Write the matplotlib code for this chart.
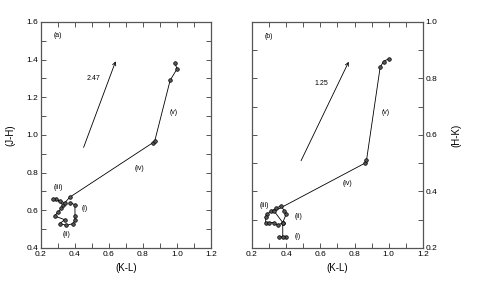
import numpy as np
import matplotlib
matplotlib.use('Agg')
import matplotlib.pyplot as plt
from matplotlib.ticker import MultipleLocator

plt.rcParams['font.family'] = ['Liberation Sans', 'DejaVu Sans']

# panel (a): (K-L) vs (J-H), evolution track
kl_a = [0.37, 0.40, 0.40, 0.40, 0.39, 0.35, 0.31, 0.34, 0.28, 0.30, 0.32, 0.33,
        0.29, 0.27, 0.31, 0.34, 0.37, 0.86, 0.87, 0.96, 1.00, 0.99]
jh_a = [0.64, 0.63, 0.57, 0.55, 0.53, 0.52, 0.53, 0.55, 0.57, 0.59, 0.61, 0.63,
        0.66, 0.66, 0.65, 0.64, 0.67, 0.96, 0.97, 1.29, 1.35, 1.38]
# reddening vector (a)
vec_a_x = [0.445, 0.645]
vec_a_y = [0.92, 1.405]
vec_a_label = '2.47'

# panel (b): (K-L) vs (H-K)
kl_b = [0.36, 0.40, 0.38, 0.38, 0.40, 0.39, 0.37, 0.34, 0.31, 0.29, 0.28, 0.28,
        0.30, 0.33, 0.35, 0.38, 0.33, 0.86, 0.87, 0.95, 0.97, 1.00]
hk_b = [0.24, 0.24, 0.24, 0.29, 0.32, 0.33, 0.35, 0.34, 0.33, 0.32, 0.31, 0.29,
        0.29, 0.29, 0.28, 0.29, 0.33, 0.50, 0.51, 0.84, 0.86, 0.87]
vec_b_x = [0.48, 0.773]
vec_b_y = [0.50, 0.868]
vec_b_label = '1.25'

labels_a = {'(i)': (0.46, 0.61), '(ii)': (0.35, 0.47), '(iii)': (0.30, 0.72),
            '(iv)': (0.78, 0.82), '(v)': (0.98, 1.12)}
labels_b = {'(i)': (0.47, 0.24), '(ii)': (0.47, 0.31), '(iii)': (0.27, 0.35),
            '(iv)': (0.76, 0.43), '(v)': (0.98, 0.68)}

fig = plt.figure(figsize=(4.8, 2.97), dpi=100)
ax1 = fig.add_axes([0.0854, 0.165, 0.354, 0.761])
ax2 = fig.add_axes([0.525, 0.165, 0.356, 0.761])

spine_col = '#555555'


def style(ax):
    ax.set_xlim(0.2, 1.2)
    ax.xaxis.set_major_locator(MultipleLocator(0.2))
    ax.xaxis.set_minor_locator(MultipleLocator(0.1))
    ax.yaxis.set_major_locator(MultipleLocator(0.2))
    ax.yaxis.set_minor_locator(MultipleLocator(0.1))
    ax.tick_params(which='both', direction='in', top=True, right=True,
                   length=3.5, width=0.7, color=spine_col, labelsize=6, pad=2)
    for s in ax.spines.values():
        s.set_color(spine_col)
        s.set_linewidth(0.9)
    ax.set_xlabel('(K-L)', fontsize=7, labelpad=4)


# panel (a)
ax1.plot(kl_a, jh_a, color='black', lw=0.6, marker='o', ms=2.6,
         mfc='#555555', mec='black', mew=0.5)
ax1.annotate('', xy=(vec_a_x[1], vec_a_y[1]), xytext=(vec_a_x[0], vec_a_y[0]),
             arrowprops=dict(arrowstyle='->', lw=0.6, color='black',
                             mutation_scale=6))
ax1.text(0.506, 1.30, vec_a_label, fontsize=5, ha='center', va='center')
for t, (x, y) in labels_a.items():
    ax1.text(x, y, t, fontsize=5, ha='center', va='center')
ax1.text(0.3, 1.53, '(a)', fontsize=5, ha='center', va='center')
ax1.set_ylim(0.4, 1.6)
style(ax1)
ax1.set_ylabel('(J-H)', fontsize=7, labelpad=8)
ax1.xaxis.set_major_formatter(plt.FuncFormatter(lambda v, p: f'{v:.1f}'))
ax1.yaxis.set_major_formatter(plt.FuncFormatter(lambda v, p: f'{v:.1f}'))

# panel (b)
ax2.plot(kl_b, hk_b, color='black', lw=0.6, marker='o', ms=2.6,
         mfc='#555555', mec='black', mew=0.5)
ax2.annotate('', xy=(vec_b_x[1], vec_b_y[1]), xytext=(vec_b_x[0], vec_b_y[0]),
             arrowprops=dict(arrowstyle='->', lw=0.6, color='black',
                             mutation_scale=6))
ax2.text(0.604, 0.783, vec_b_label, fontsize=5, ha='center', va='center')
for t, (x, y) in labels_b.items():
    ax2.text(x, y, t, fontsize=5, ha='center', va='center')
ax2.text(0.3, 0.95, '(b)', fontsize=5, ha='center', va='center')
ax2.set_ylim(0.2, 1.0)
style(ax2)
ax2.yaxis.tick_right()
ax2.yaxis.set_label_position('right')
ax2.tick_params(which='both', left=True, labelleft=False, labelright=True)
ax2.set_ylabel('(H-K)', fontsize=7, labelpad=10)
ax2.xaxis.set_major_formatter(plt.FuncFormatter(lambda v, p: f'{v:.1f}'))
ax2.yaxis.set_major_formatter(plt.FuncFormatter(lambda v, p: f'{v:.1f}'))

fig.savefig('out.png', dpi=100)
